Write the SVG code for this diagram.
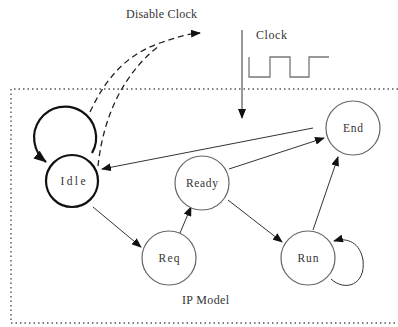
<svg xmlns="http://www.w3.org/2000/svg" width="398" height="327" viewBox="0 0 398 327">
<style>
.node{fill:#fff;stroke:#666;stroke-width:1.2}
.lbl{font-family:"Liberation Serif",serif;font-size:11.5px;fill:#333;text-anchor:middle}
.cap{font-family:"Liberation Serif",serif;font-size:12px;fill:#333}
.edge{fill:none;stroke:#333;stroke-width:1}
.dash{fill:none;stroke:#222;stroke-width:1.3;stroke-dasharray:6 4}
</style>
<defs>
<marker id="ah" markerWidth="10" markerHeight="8" refX="9" refY="4" orient="auto" markerUnits="userSpaceOnUse">
<path d="M0,0 L10,4 L0,8 z" fill="#111"/>
</marker>
<marker id="ahb" markerWidth="14" markerHeight="10" refX="12" refY="5" orient="auto" markerUnits="userSpaceOnUse">
<path d="M0,0 L13,5 L0,10 z" fill="#111"/>
</marker>
</defs>
<rect width="398" height="327" fill="#fff"/>
<path d="M398,89 H11 V323 H398" fill="none" stroke="#555" stroke-width="1.4" stroke-dasharray="1.5 3"/>
<text class="cap" x="126" y="18" textLength="71" lengthAdjust="spacing">Disable Clock</text>
<text class="cap" x="256" y="39" textLength="31" lengthAdjust="spacing">Clock</text>
<path d="M249,57 V77 H270 V57 H290 V77 H309 V57 H329" fill="none" stroke="#777" stroke-width="1.3"/>
<text class="cap" x="182" y="304" textLength="47" lengthAdjust="spacing">IP Model</text>
<g id="connectors">
<line class="edge" x1="242" y1="30" x2="242" y2="118" marker-end="url(#ah)"/>
<path class="dash" d="M90,112 C105,80 125,55 160,43 C175,38 185,34 200,33" marker-end="url(#ah)"/>
<path class="dash" d="M98,166 C102,130 115,80 160,45"/>
<path d="M92,153 A31,31 0 1 0 46,162" fill="none" stroke="#111" stroke-width="2.2" marker-end="url(#ahb)"/>
<line class="edge" x1="313" y1="128" x2="102" y2="169" marker-end="url(#ah)"/>
<line class="edge" x1="229" y1="169" x2="324" y2="138" marker-end="url(#ah)"/>
<line class="edge" x1="93" y1="207" x2="141" y2="247" marker-end="url(#ah)"/>
<line class="edge" x1="180" y1="233" x2="191" y2="207" marker-end="url(#ah)"/>
<line class="edge" x1="228" y1="200" x2="282" y2="242" marker-end="url(#ah)"/>
<line class="edge" x1="313" y1="230" x2="338" y2="157" marker-end="url(#ah)"/>
<path class="edge" d="M331,279 C345,292 366,285 363,260 C360,243 348,237 334,241" marker-end="url(#ah)"/>
</g>
<g id="node-idle"><circle cx="72" cy="181" r="26" fill="#fff" stroke="#111" stroke-width="2.2"/><text class="lbl" x="73" y="185" textLength="25" lengthAdjust="spacing">Idle</text></g>
<g id="node-end"><circle class="node" cx="353" cy="128" r="27"/><text class="lbl" x="353" y="132" textLength="20" lengthAdjust="spacing">End</text></g>
<g id="node-ready"><circle class="node" cx="202" cy="183" r="27"/><text class="lbl" x="202" y="187" textLength="32" lengthAdjust="spacing">Ready</text></g>
<g id="node-req"><circle class="node" cx="169" cy="258" r="27"/><text class="lbl" x="169" y="262" textLength="21" lengthAdjust="spacing">Req</text></g>
<g id="node-run"><circle class="node" cx="308" cy="258" r="27"/><text class="lbl" x="308" y="262" textLength="21" lengthAdjust="spacing">Run</text></g>
</svg>
